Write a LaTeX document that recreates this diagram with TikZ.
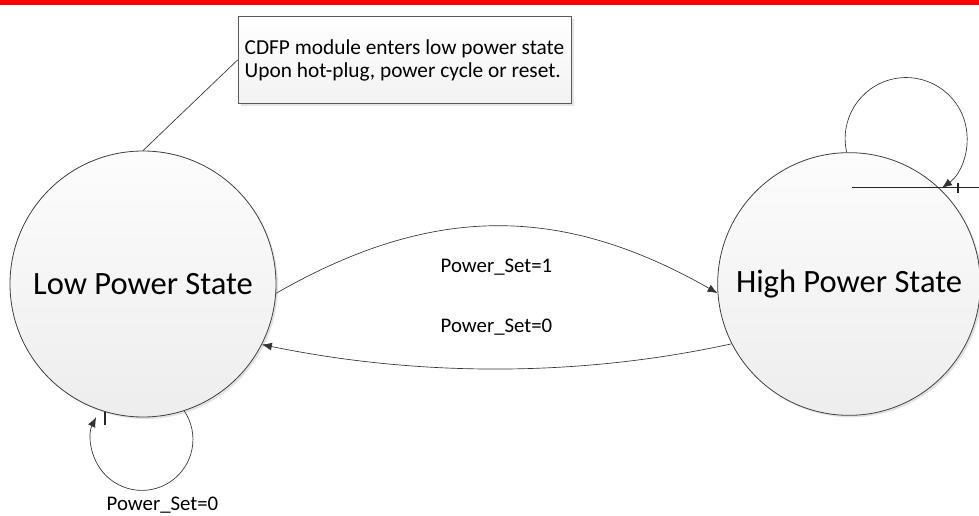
\documentclass[tikz,border=0pt]{standalone}
\usepackage{fontspec}
\setmainfont{Carlito}
\usepackage{tikz}
\usetikzlibrary{arrows.meta, shadows, shapes.geometric}
\usepackage{xcolor}
\definecolor{barred}{RGB}{255,0,0}
\definecolor{rim}{RGB}{64,64,64}

\begin{document}
\begin{tikzpicture}[x=0.75pt,y=0.75pt]
					\tikzstyle{vertex} = [circle,draw=rim,line width=0.6pt,top color=gray!2,bottom color=gray!14,font=\fontsize{24.4}{28}\selectfont,drop shadow={shadow xshift=1.5pt,shadow yshift=-1.5pt,fill=gray!45}]
					\tikzstyle{edge} = [-{Latex[length=7.5pt,width=6pt]},draw=black!80,line width=0.5pt]
					\tikzstyle{cond} = [font=\fontsize{15.6}{18}\selectfont,anchor=base,inner sep=0pt]
					\useasboundingbox (0,0) rectangle (979,515);
					\fill[barred] (0,510) rectangle (979,515);
					\node[rectangle,draw=gray!70!black,top color=white,bottom color=gray!10,minimum width=250pt,minimum height=65pt,align=left,inner xsep=1pt,font=\fontsize{16}{17.3}\selectfont,drop shadow={shadow xshift=2pt,shadow yshift=-2pt,fill=gray!40}] (note) at (404.5,455) {CDFP module enters low power state\\Upon hot-plug, power cycle or reset.};
					\node[vertex,minimum size=199.5pt] (n1) at (143,231) {Low Power State};
					\node[vertex,minimum size=197pt] (n2) at (849,231) {High Power State};
					\draw[draw=black!80,line width=0.5pt] (note.west) -- (n1.north);
					\draw[edge] (n1.-4) .. controls (432,311) and (561,311) .. (n2.184);
					\draw[edge] (n2.207) .. controls (580,138) and (420,138) .. (n1.-27);
					\draw[edge] (n2.91) arc[start angle=193,end angle=-54,radius=45.75pt];
					\draw[edge] (n1.-72) arc[start angle=34,end angle=-206,radius=38.25pt];
					\coordinate (c1) at (852,328);
					\coordinate (c2) at (979,328);
					\draw[black!85,line width=0.6pt] (c1) -- (c2);
					\draw[black!85,line width=1.4pt] (958,322) -- (958,332);
					\draw[black!85,line width=1.2pt] (105,90) -- (105,103);
					\node[cond] (l1) at (496.5,243) {Power\_Set=1};
					\node[cond] (l2) at (496.5,182) {Power\_Set=0};
					\node[cond] (l3) at (162.5,5) {Power\_Set=0};
					\end{tikzpicture}
\end{document}
